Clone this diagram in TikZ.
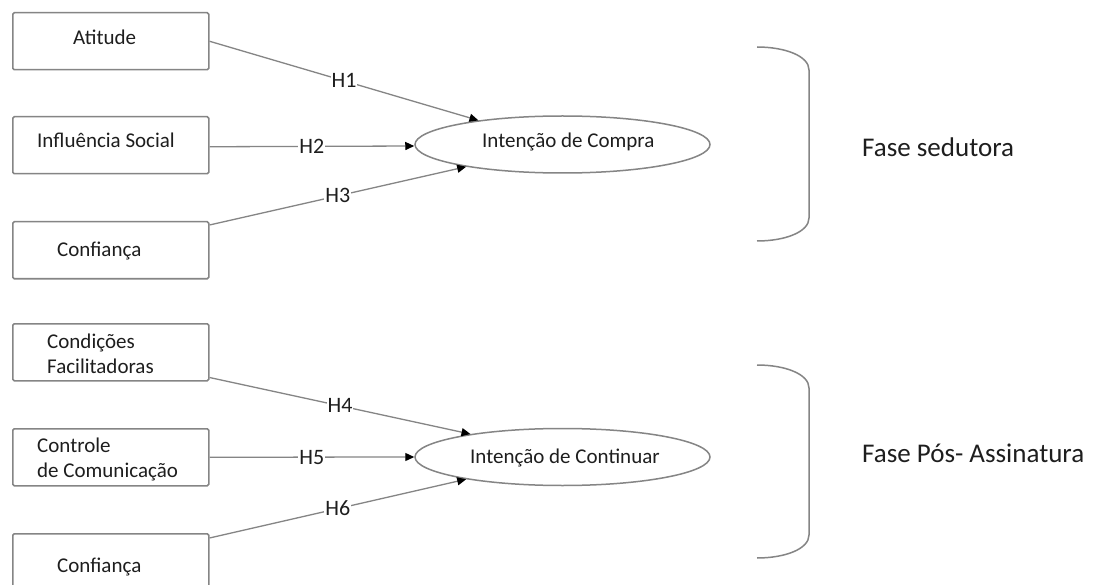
\documentclass[tikz,border=0pt]{standalone}
\usepackage{fontspec}
\setmainfont{Carlito}
\usetikzlibrary{shapes.geometric,arrows.meta}
\definecolor{linegray}{HTML}{858585}
\definecolor{textc}{HTML}{1E1E1E}
\begin{document}
\begin{tikzpicture}[x=1pt,y=-1pt,
  box/.style={draw=linegray,line width=1.5pt,rounded corners=1.5pt,minimum width=196pt,minimum height=57pt,inner sep=0pt,anchor=north west},
  ell/.style={draw=linegray,line width=1.5pt,ellipse,minimum width=295pt,minimum height=57pt,inner sep=0pt},
  txt/.style={font=\fontsize{21}{25}\selectfont,inner sep=0pt,text=textc,anchor=base west},
  phase/.style={font=\fontsize{27}{32}\selectfont,inner sep=0pt,text=textc,anchor=base west},
  conn/.style={draw=linegray,line width=1.3pt,-{Triangle[length=9pt,width=8pt,color=black]}},
  lab/.style={fill=white,inner sep=1pt,font=\fontsize{22}{26}\selectfont,text=textc},
  brace/.style={draw=linegray,line width=1.5pt}
]
\clip (0,0) rectangle (1097,585);
\fill[white] (0,0) rectangle (1097,585);

% boxes
\node[box] (at) at (12,12) {};
\node[box] (is) at (12,116) {};
\node[box] (cf1) at (12,221) {};
\node[box] (cd) at (12,323) {};
\node[box] (cc) at (12,428) {};
\node[box] (cf2) at (12,533) {};

\node[txt] (tat) at (73,45) {Atitude};
\node[txt] (tis) at (37,148) {Influência Social};
\node[txt] (tcf1) at (57,257) {Confiança};
\node[txt] (tcd1) at (47,348) {Condições};
\node[txt] (tcd2) at (47,373) {Facilitadoras};
\node[txt] (tcc1) at (37,452) {Controle};
\node[txt] (tcc2) at (37,477) {de Comunicação};
\node[txt] (tcf2) at (57,572) {Confiança};

% ellipses
\node[ell] (ic) at (562.5,144.5) {};
\node[ell] (icn) at (562.5,457) {};
\node[txt] (tic) at (482,148) {Intenção de Compra};
\node[txt] (ticn) at (470,463) {Intenção de Continuar};

% connectors
\draw[conn] (at.east) -- node[lab] {H1} (ic.164);
\draw[conn] ([yshift=-1.5pt]is.east) -- node[lab] {H2} ([yshift=-1.5pt]ic.west);
\draw[conn] ([yshift=-4pt]cf1.north east) -- node[lab] {H3} (ic.193);
\draw[conn] ([yshift=4pt]cd.south east) -- node[lab] {H4} (icn.166);
\draw[conn] (cc.east) -- node[lab] {H5} (icn.west);
\draw[conn] ([yshift=-5pt]cf2.north east) -- node[lab] {H6} (icn.193);

% braces
\coordinate (b1t) at (757,47);
\coordinate (b1b) at (757,241);
\draw[brace] (b1t) .. controls (785,47) and (809,56) .. (809,70) -- (809,218) .. controls (809,232) and (785,241) .. (b1b);
\coordinate (b2t) at (757,365);
\coordinate (b2b) at (757,558);
\draw[brace] (b2t) .. controls (785,365) and (809,374) .. (809,388) -- (809,535) .. controls (809,549) and (785,558) .. (b2b);

\node[phase] (f1) at (862,157) {Fase sedutora};
\node[phase] (f2) at (862,462) {Fase Pós- Assinatura};
\end{tikzpicture}
\end{document}
